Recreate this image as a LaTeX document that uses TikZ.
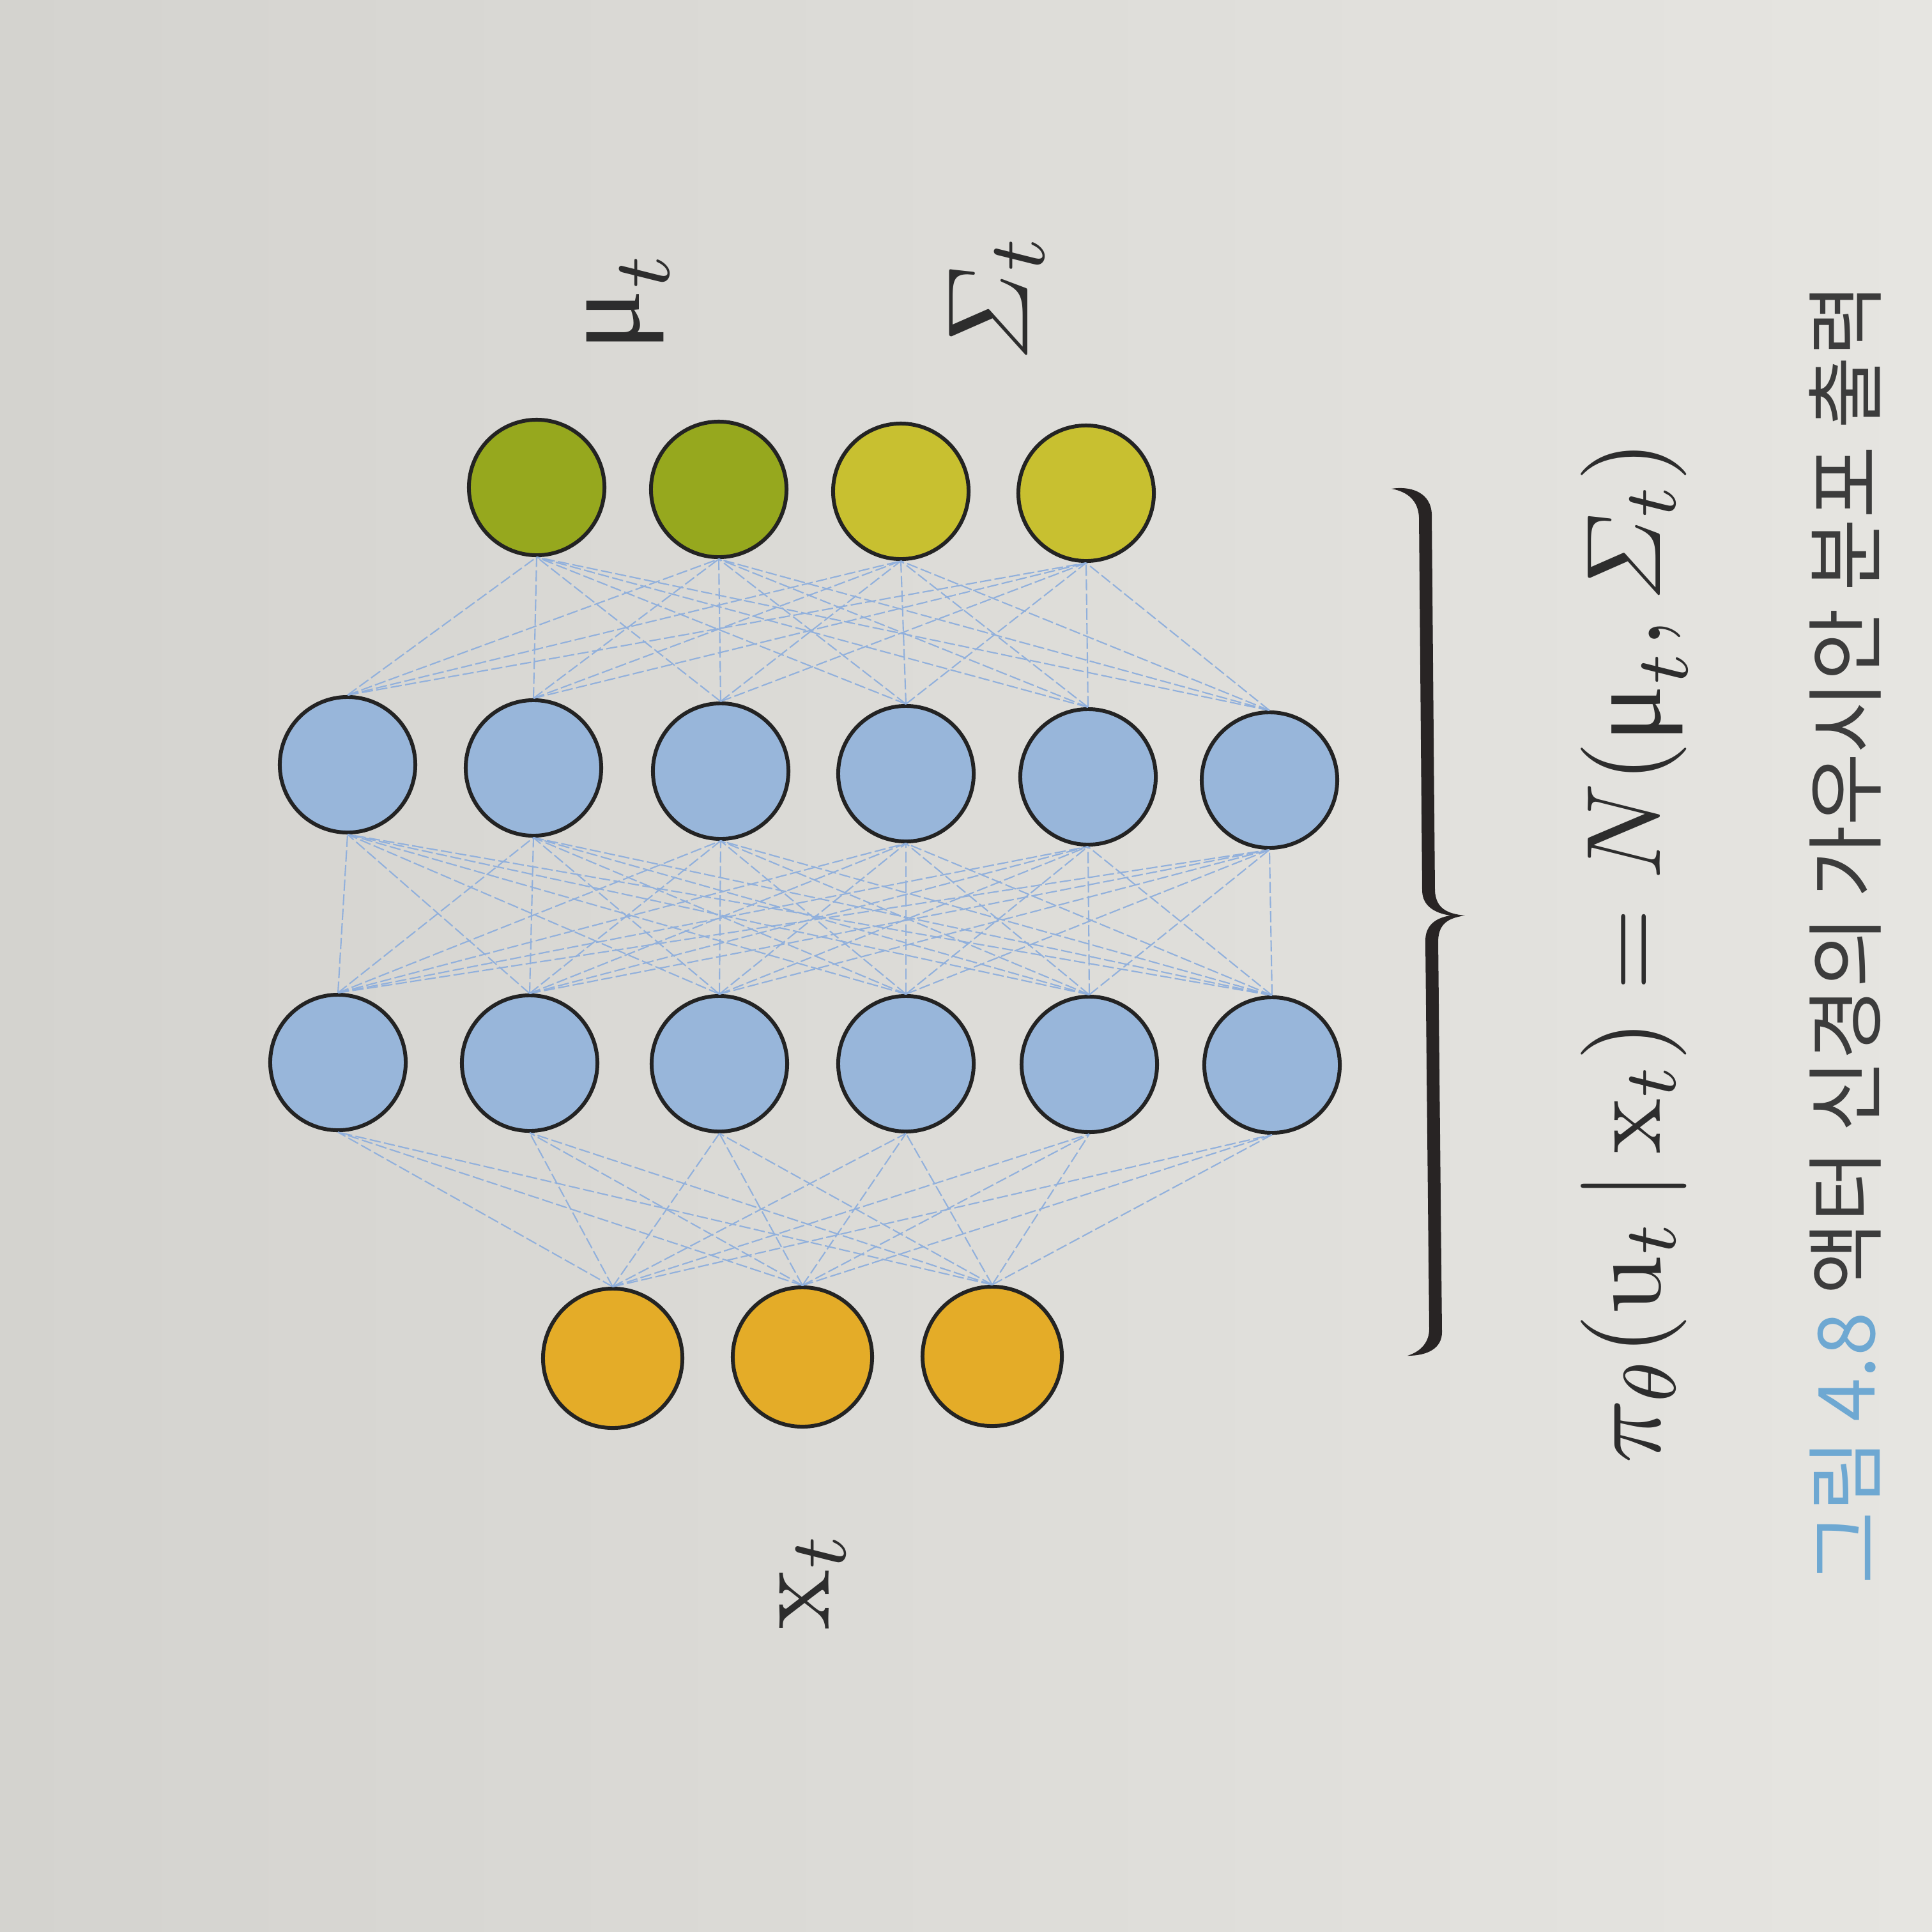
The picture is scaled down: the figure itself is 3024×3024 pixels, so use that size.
\documentclass[tikz,border=0pt]{standalone}
\usepackage[no-math]{fontspec}
\newfontfamily\krfont{Noto Sans CJK KR}
\newfontfamily\grkfont{Liberation Serif}
\definecolor{paperL}{RGB}{212,211,207}
\definecolor{paperR}{RGB}{230,229,225}
\definecolor{muGreen}{RGB}{150,168,30}
\definecolor{sigGreen}{RGB}{200,192,48}
\definecolor{hidBlue}{RGB}{152,182,218}
\definecolor{inOrange}{RGB}{228,172,40}
\definecolor{rimDark}{RGB}{35,35,35}
\definecolor{linkBlue}{RGB}{145,176,220}
\definecolor{inkGray}{RGB}{45,45,45}
\definecolor{capBlue}{RGB}{110,168,210}
\definecolor{capGray}{RGB}{60,60,60}
\definecolor{braceDark}{RGB}{40,36,36}
\newcommand{\mysig}{\mathnormal{\Sigma}}
\newcommand{\mymu}{\mbox{\grkfont μ}}
\begin{document}
\begin{tikzpicture}[x=0.01cm,y=-0.01cm,
  neuron/.style={circle, draw=rimDark, line width=1.7pt, minimum size=2.12cm, inner sep=0pt},
  inneuron/.style={neuron, minimum size=2.18cm},
  link/.style={draw=linkBlue, line width=0.6pt, dash pattern=on 5pt off 1.5pt},
  lbl/.style={rotate=90, anchor=base, scale=5.1, text=inkGray, inner sep=0pt},
  formula/.style={rotate=90, anchor=base, scale=4.7, text=inkGray, inner sep=0pt},
  caption/.style={rotate=90, anchor=center, text=capGray, inner sep=0pt}]
\shade[left color=paperL, right color=paperR] (0,0) rectangle (3024,3024);
\useasboundingbox (0,0) rectangle (3024,3024);

% output layer
\node[neuron, fill=muGreen]  (o1) at (840,763) {};
\node[neuron, fill=muGreen]  (o2) at (1125,766) {};
\node[neuron, fill=sigGreen] (o3) at (1410,769) {};
\node[neuron, fill=sigGreen] (o4) at (1700,772) {};

% hidden layer 1 (upper row)
\node[neuron, fill=hidBlue] (h1) at (544,1197) {};
\node[neuron, fill=hidBlue] (h2) at (835,1202) {};
\node[neuron, fill=hidBlue] (h3) at (1128,1207) {};
\node[neuron, fill=hidBlue] (h4) at (1418,1211) {};
\node[neuron, fill=hidBlue] (h5) at (1703,1216) {};
\node[neuron, fill=hidBlue] (h6) at (1987,1221) {};

% hidden layer 2 (lower row)
\node[neuron, fill=hidBlue] (g1) at (529,1663) {};
\node[neuron, fill=hidBlue] (g2) at (829,1664) {};
\node[neuron, fill=hidBlue] (g3) at (1126,1665) {};
\node[neuron, fill=hidBlue] (g4) at (1418,1665) {};
\node[neuron, fill=hidBlue] (g5) at (1705,1666) {};
\node[neuron, fill=hidBlue] (g6) at (1991,1667) {};

% input layer
\node[inneuron, fill=inOrange] (i1) at (959,2126) {};
\node[inneuron, fill=inOrange] (i2) at (1256,2124) {};
\node[inneuron, fill=inOrange] (i3) at (1553,2123) {};

% connections
\foreach \a in {1,...,6}{\foreach \b in {1,...,4}{\draw[link] (h\a.north) -- (o\b.south);}}
\foreach \a in {1,...,6}{\foreach \b in {1,...,6}{\draw[link] (g\a.north) -- (h\b.south);}}
\foreach \a in {1,2,3}{\foreach \b in {1,...,6}{\draw[link] (i\a.north) -- (g\b.south);}}

% labels
\node[lbl] (mu) at (1000,470) {$\mymu_t$};
\node[lbl] (sig) at (1608,465) {$\mysig_t$};
\node[lbl] (xin) at (1297,2473) {$\mathrm{x}_t$};

% brace
\fill[braceDark] (2178,765) .. controls (2210,760) and (2240,772) .. (2241,805)
  -- (2246,1395) .. controls (2248,1420) and (2262,1430) .. (2293,1433)
  .. controls (2265,1437) and (2252,1447) .. (2251,1472)
  -- (2257,2085) .. controls (2257,2110) and (2235,2122) .. (2203,2122)
  .. controls (2225,2115) and (2237,2100) .. (2237,2080)
  -- (2231,1475) .. controls (2230,1450) and (2245,1437) .. (2270,1433)
  .. controls (2245,1429) and (2227,1418) .. (2226,1395)
  -- (2221,810) .. controls (2220,785) and (2205,770) .. (2178,765) -- cycle;

% formula
\node[formula] (eq) at (2598,1490) {$\pi_\theta(\mathrm{u}_t\,|\,\mathrm{x}_t) = N(\mymu_t, \mysig_t)$};

% caption
\node[caption] (cap) at (2888,1462) {\fontsize{35}{42}\selectfont\krfont{\color{capBlue}그림 4.8} 액터 신경의 가우시안 분포 출력};
\end{tikzpicture}
\end{document}
